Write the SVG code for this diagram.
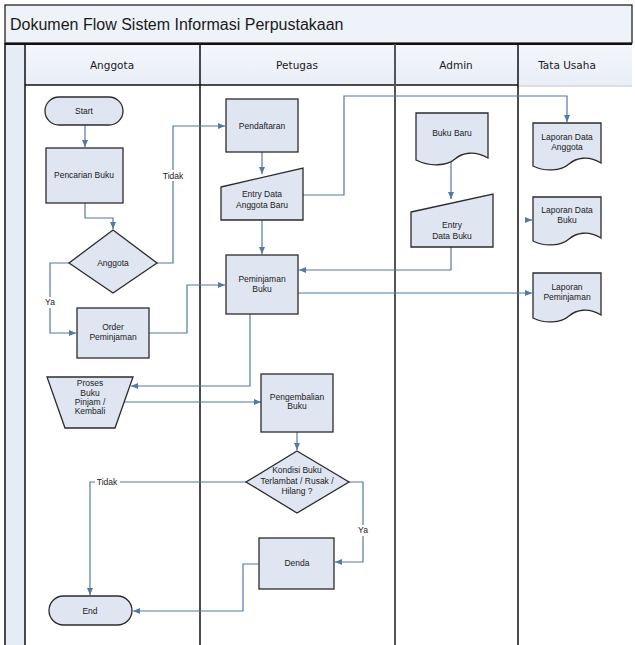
<svg xmlns="http://www.w3.org/2000/svg" width="635" height="645" viewBox="0 0 635 645">
<defs>
<style>
.node{fill:#dfe6f2;stroke:#2b2b2b;stroke-width:1.3}
.t{font-family:"Liberation Sans",Arial,sans-serif;font-size:8.5px;fill:#1a1a1a;text-anchor:middle}
.h{font-family:"DejaVu Sans","Liberation Sans",sans-serif;font-size:10.5px;fill:#1a1a1a;text-anchor:middle}
.c{fill:none;stroke:#5479a8;stroke-width:1.2}
.lane{stroke:#111;stroke-width:1.5}
.lbl{font-family:"Liberation Sans",Arial,sans-serif;font-size:8.5px;fill:#1a1a1a;text-anchor:middle}
</style>
<marker id="ar" markerWidth="8" markerHeight="8" refX="7" refY="4" orient="auto" markerUnits="userSpaceOnUse">
<path d="M0,1 L7,4 L0,7 Z" fill="#5479a8"/>
</marker>
<linearGradient id="hg" x1="0" y1="0" x2="0" y2="1">
<stop offset="0" stop-color="#f4f6fb"/>
<stop offset="1" stop-color="#e9eef7"/>
</linearGradient>
</defs>
<rect x="0" y="0" width="635" height="645" fill="#ffffff"/>
<!-- frame -->
<g id="frame">
<rect x="5" y="5" width="627" height="38" fill="#eef2f9" stroke="#222" stroke-width="1.3"/>
<text x="10" y="30" font-family="'Liberation Sans',Arial,sans-serif" font-size="16" fill="#1a1a1a">Dokumen Flow Sistem Informasi Perpustakaan</text>
<rect x="5" y="44" width="20" height="601" fill="#e6ecf6"/>
<rect x="25" y="44" width="607" height="41" fill="url(#hg)"/>
<line x1="5" y1="43" x2="5" y2="645" class="lane"/>
<line x1="5" y1="44" x2="632" y2="44" stroke="#111" stroke-width="2"/>
<line x1="25" y1="44" x2="25" y2="645" class="lane"/>
<line x1="25" y1="85" x2="518" y2="85" class="lane"/>
<line x1="518" y1="86" x2="632" y2="86" stroke="#cfd4dc" stroke-width="1.5"/>
<line x1="200" y1="44" x2="200" y2="645" class="lane"/>
<line x1="395" y1="44" x2="395" y2="645" stroke="#555" stroke-width="2"/>
<line x1="518" y1="44" x2="518" y2="645" class="lane"/>
<text x="112" y="69" class="h">Anggota</text>
<text x="297" y="69" class="h">Petugas</text>
<text x="456" y="69" class="h">Admin</text>
<text x="567" y="69" class="h">Tata Usaha</text>
</g>
<!-- connectors -->
<g id="connectors">
<path class="c" d="M85,125 V147" marker-end="url(#ar)"/>
<path class="c" d="M85,203 V218 H113 V229" marker-end="url(#ar)"/>
<path class="c" d="M157,263 H173 V126 H225" marker-end="url(#ar)"/>
<path class="c" d="M69,263 H50 V333 H76" marker-end="url(#ar)"/>
<path class="c" d="M149,333 H187 V285 H225" marker-end="url(#ar)"/>
<path class="c" d="M262,152 V174" marker-end="url(#ar)"/>
<path class="c" d="M303,195 H344 V96 H567 V122" marker-end="url(#ar)"/>
<path class="c" d="M262,220 V254" marker-end="url(#ar)"/>
<path class="c" d="M451,161 V199" marker-end="url(#ar)"/>
<path class="c" d="M451,247 V270 H299" marker-end="url(#ar)"/>
<path class="c" d="M298,293 H532" marker-end="url(#ar)"/>
<path class="c" d="M526,220 H532" marker-end="url(#ar)"/>
<path class="c" d="M250,314 V386 H131" marker-end="url(#ar)"/>
<path class="c" d="M124,402 H261" marker-end="url(#ar)"/>
<path class="c" d="M297,432 V450" marker-end="url(#ar)"/>
<path class="c" d="M349,482 H363 V562 H335" marker-end="url(#ar)"/>
<path class="c" d="M246,482 H90 V595" marker-end="url(#ar)"/>
<path class="c" d="M259,564 H243 V611 H133" marker-end="url(#ar)"/>
<rect x="160" y="170" width="26" height="11" fill="#fff"/>
<text x="173" y="179" class="lbl">Tidak</text>
<rect x="43" y="297" width="14" height="11" fill="#fff"/>
<text x="50" y="305" class="lbl">Ya</text>
<rect x="95" y="477" width="25" height="11" fill="#fff"/>
<text x="107" y="485" class="lbl">Tidak</text>
<rect x="356" y="525" width="14" height="11" fill="#fff"/>
<text x="363" y="533" class="lbl">Ya</text>
</g>
<!-- nodes -->
<g id="start">
<rect x="45" y="97" width="78" height="28" rx="14" class="node"/>
<text x="84" y="114" class="t">Start</text>
</g>
<g id="pencarian">
<rect x="46" y="148" width="77" height="55" class="node"/>
<text x="84" y="178" class="t">Pencarian Buku</text>
</g>
<g id="anggota">
<path d="M113,230 L157,263 L113,293 L69,263 Z" class="node"/>
<text x="113" y="266" class="t">Anggota</text>
</g>
<g id="order">
<rect x="77" y="308" width="72" height="50" class="node"/>
<text x="113" y="330" class="t">Order</text>
<text x="113" y="340" class="t">Peminjaman</text>
</g>
<g id="pendaftaran">
<rect x="226" y="99" width="72" height="53" class="node"/>
<text x="262" y="129" class="t">Pendaftaran</text>
</g>
<g id="entryAnggota">
<path d="M221,187 L303,168 V220 H221 Z" class="node"/>
<text x="262" y="197" class="t">Entry Data</text>
<text x="262" y="208" class="t">Anggota Baru</text>
</g>
<g id="peminjaman">
<rect x="226" y="255" width="72" height="59" class="node"/>
<text x="262" y="282" class="t">Peminjaman</text>
<text x="262" y="292" class="t">Buku</text>
</g>
<g id="proses">
<path d="M47,377 H133 L115,428 H65 Z" class="node"/>
<text x="90" y="386" class="t">Proses</text>
<text x="90" y="396" class="t">Buku</text>
<text x="90" y="405" class="t">Pinjam /</text>
<text x="90" y="414" class="t">Kembali</text>
</g>
<g id="pengembalian">
<rect x="261" y="374" width="72" height="58" class="node"/>
<text x="297" y="400" class="t">Pengembalian</text>
<text x="297" y="409" class="t">Buku</text>
</g>
<g id="kondisi">
<path d="M297,451 L349,482 L297,513 L246,482 Z" class="node"/>
<text x="297" y="473" class="t">Kondisi Buku</text>
<text x="297" y="484" class="t">Terlambat / Rusak /</text>
<text x="297" y="494" class="t">Hilang ?</text>
</g>
<g id="denda">
<rect x="259" y="538" width="75" height="51" class="node"/>
<text x="297" y="566" class="t">Denda</text>
</g>
<g id="end">
<rect x="49" y="596" width="83" height="29" rx="14.5" class="node"/>
<text x="90" y="614" class="t" font-size="9.5">End</text>
</g>
<g id="bukuBaru">
<path d="M416,113 H488 V158 C474,150 462,153 455,159 C447,166 430,167 416,160 Z" class="node"/>
<text x="452" y="136" class="t">Buku Baru</text>
</g>
<g id="entryBuku">
<path d="M411,212 L493,194 V247 H411 Z" class="node"/>
<text x="452" y="228" class="t">Entry</text>
<text x="452" y="239" class="t">Data Buku</text>
</g>
<g id="lapAnggota">
<path d="M533,123 H601 V163 C588,155 576,158 569,164 C561,171 545,172 533,166 Z" class="node"/>
<text x="567" y="140" class="t">Laporan Data</text>
<text x="567" y="150" class="t">Anggota</text>
</g>
<g id="lapBuku">
<path d="M533,197 H601 V238 C588,230 576,233 569,239 C561,246 545,247 533,241 Z" class="node"/>
<text x="567" y="213" class="t">Laporan Data</text>
<text x="567" y="223" class="t">Buku</text>
</g>
<g id="lapPeminjaman">
<path d="M533,273 H601 V315 C588,307 576,310 569,316 C561,323 545,324 533,318 Z" class="node"/>
<text x="567" y="290" class="t">Laporan</text>
<text x="567" y="300" class="t">Peminjaman</text>
</g>
</svg>
